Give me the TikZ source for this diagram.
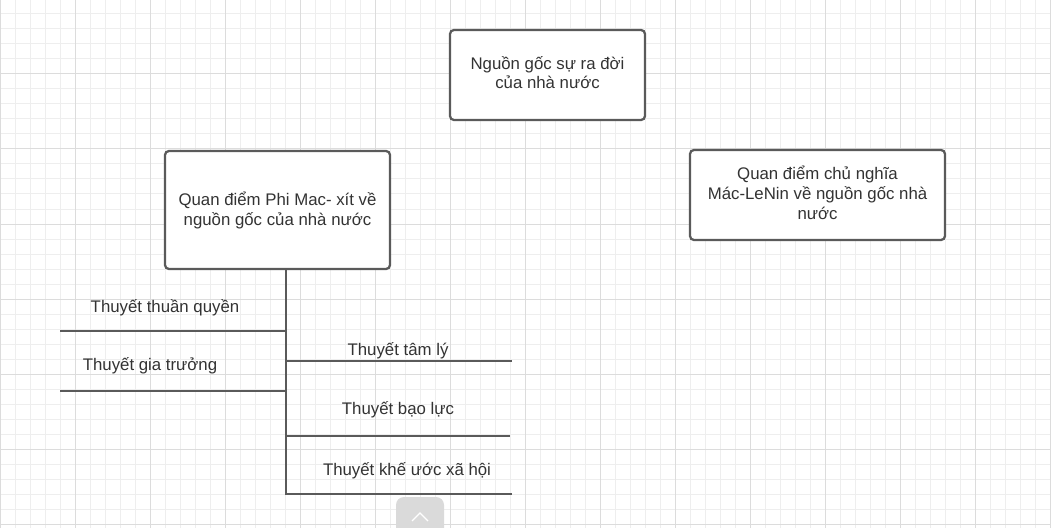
\documentclass[tikz,border=0pt]{standalone}
\usepackage{fontspec}
\setmainfont{Liberation Sans}
\definecolor{gridminor}{HTML}{EEEEEE}
\definecolor{gridmajor}{HTML}{DCDCDC}
\definecolor{edgegray}{HTML}{5A5A5A}
\definecolor{textgray}{HTML}{333333}
\definecolor{btngray}{HTML}{DADADA}
\tikzset{
  box/.style={draw=edgegray, line width=1.7pt, rounded corners=3pt, fill=white, inner sep=0pt},
  boxtext/.style={align=center, text=textgray, font=\fontsize{12.6}{15}\selectfont, inner sep=0pt},
  branch/.style={draw=edgegray, line width=1.7pt},
  lbl/.style={text=textgray, font=\fontsize{12.6}{15}\selectfont, inner sep=0pt},
}
\begin{document}
\begin{tikzpicture}[x=0.75pt, y=-0.75pt]
\useasboundingbox (0,0) rectangle (1051,528);
\fill[white] (0,0) rectangle (1051,528);
% grid
\foreach \i in {0,...,70} {\draw[gridminor, line width=0.75pt] (\i*15+0.5,0) -- (\i*15+0.5,528);}
\foreach \j in {0,...,36} {\draw[gridminor, line width=0.75pt] (0,\j*15-1) -- (1051,\j*15-1);}
\foreach \i in {0,...,14} {\draw[gridmajor, line width=0.75pt] (\i*75+0.5,0) -- (\i*75+0.5,528);}
\foreach \j in {0,...,7} {\draw[gridmajor, line width=0.75pt] (0,\j*75-1) -- (1051,\j*75-1);}

% boxes
\node[box, minimum width=195*0.75pt, minimum height=90*0.75pt] (root) at (547.5,75) {};
\node[boxtext, font=\fontsize{12.6}{14.4}\selectfont] (roottxt) at (547.5,73) {Nguồn gốc sự ra đời\\của nhà nước};
\node[box, minimum width=225*0.75pt, minimum height=118*0.75pt] (phi) at (277.5,210) {};
\node[boxtext] (phitxt) at (277.5,210) {Quan điểm Phi Mac- xít về\\nguồn gốc của nhà nước};
\node[box, minimum width=255*0.75pt, minimum height=90*0.75pt] (mac) at (817.5,195) {};
\node[boxtext] (mactxt) at (817.5,193) {Quan điểm chủ nghĩa\\Mác-LeNin về nguồn gốc nhà\\nước};

% trunk
\coordinate (t0) at (286,269);
\coordinate (t1) at (286,494.8);
\draw[branch] (t0) -- (t1);

% left branches
\coordinate (l1a) at (286,331); \coordinate (l1b) at (60,331);
\coordinate (l2a) at (286,391); \coordinate (l2b) at (60,391);
\draw[branch] (l1a) -- (l1b);
\draw[branch] (l2a) -- (l2b);
% right branches
\coordinate (r1a) at (286,361); \coordinate (r1b) at (512,361);
\coordinate (r2a) at (286,436); \coordinate (r2b) at (510,436);
\coordinate (r3a) at (285.2,494); \coordinate (r3b) at (512,494);
\draw[branch] (r1a) -- (r1b);
\draw[branch] (r2a) -- (r2b);
\draw[branch] (r3a) -- (r3b);

% labels
\node[lbl] (s1) at (165,308) {Thuyết thuần quyền};
\node[lbl] (s2) at (150,366) {Thuyết gia trưởng};
\node[lbl] (s3) at (398,351) {Thuyết tâm lý};
\node[lbl] (s4) at (398,410) {Thuyết bạo lực};
\node[lbl] (s5) at (407,471) {Thuyết khế ước xã hội};

% scroll button
\fill[btngray, rounded corners=6pt] (396,497) rectangle (444,540);
\coordinate (c1) at (412,521); \coordinate (c2) at (420,513); \coordinate (c3) at (428,521);
\draw[white, line width=0.9pt] (c1) -- (c2) -- (c3);
\end{tikzpicture}
\end{document}
